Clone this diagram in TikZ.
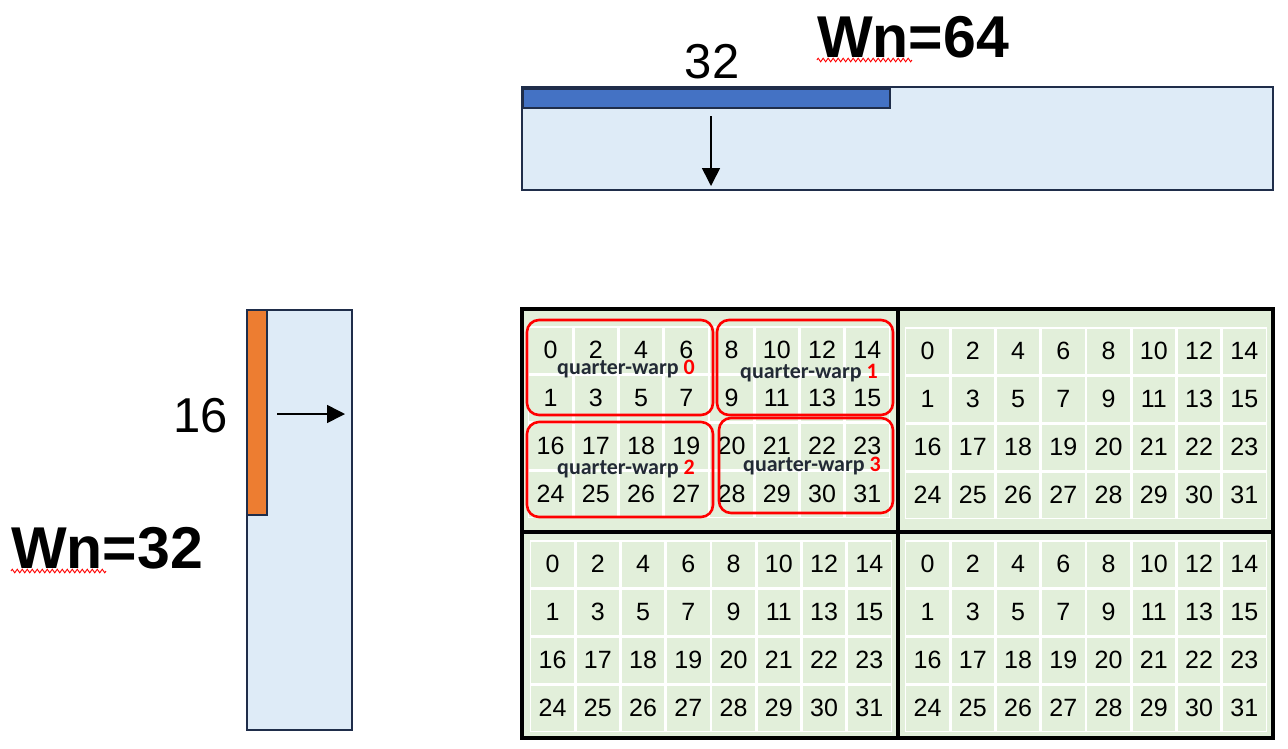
\documentclass[tikz,border=0pt]{standalone}
\usepackage{fontspec}
\setmainfont{Liberation Sans}
\newfontfamily\qwfont{Carlito}
\usepackage{tikz}
\usetikzlibrary{arrows.meta,positioning,calc,decorations.pathmorphing}
\definecolor{panelblue}{HTML}{DEEBF7}
\definecolor{edgenavy}{HTML}{1F2D4A}
\definecolor{barblue}{HTML}{4472C4}
\definecolor{barorange}{HTML}{ED7D31}
\definecolor{cellgreen}{HTML}{E2EFDA}
\definecolor{qwtext}{HTML}{222A35}
\tikzset{
  panel/.style={draw=edgenavy, fill=panelblue, line width=2.6pt},
  bar/.style={draw=edgenavy, line width=2.6pt},
  quad/.style={draw=black, fill=cellgreen, line width=3.2pt},
  cell/.style={fill=cellgreen, minimum width=42.5pt, minimum height=45pt,
    inner sep=0pt, font=\fontsize{25}{25}\selectfont},
  qwbox/.style={draw=red, line width=2.6pt, rounded corners=12pt},
  qwlabel/.style={text=qwtext, inner sep=0pt,
    font=\qwfont\bfseries\fontsize{22}{22}\selectfont},
  arrow/.style={-{Triangle[length=18pt,width=18pt]}, line width=1.6pt},
  squiggle/.style={draw=red, line width=0.9pt, decorate,
    decoration={zigzag, amplitude=1.8pt, segment length=5pt}},
  bigtxt/.style={font=\bfseries\fontsize{59}{59}\selectfont, inner sep=0pt},
  dimtxt/.style={font=\fontsize{49}{49}\selectfont, inner sep=0pt},
}

\begin{document}
\begin{tikzpicture}[x=1pt,y=-1pt]
  \useasboundingbox (0,0) rectangle (1288,748);
  % top panel, Wn=64
  \draw[panel] (522,87) rectangle (1273,190);
  \draw[bar, fill=barblue] (523,89) rectangle (890,108);
  \coordinate (topA) at (711,116);
  \coordinate (topB) at (711,186);
  \draw[arrow] (topA) -- (topB);
  \node[dimtxt, anchor=base] (dim32) at (712,78) {32};
  \node[bigtxt, anchor=base] (wn64) at (913,57) {Wn=64};
  \draw[squiggle] ([yshift=-3pt]wn64.base west) -- ++(95,0);

  % left panel, Wn=32
  \draw[panel] (247,310) rectangle (352,730);
  \draw[bar, fill=barorange] (247,310) rectangle (267,515);
  \coordinate (leftA) at (277,414);
  \coordinate (leftB) at (345,414);
  \draw[arrow] (leftA) -- (leftB);
  \node[dimtxt, anchor=base] (dim16) at (201,432) {16};
  \node[bigtxt, anchor=base west] (wn32) at (11,568) {Wn=32};
  \draw[squiggle] ([yshift=-3pt]wn32.base west) -- ++(95,0);

  % quadrants
  \draw[quad] (522,309) rectangle (898,532);
  \draw[quad] (898,309) rectangle (1273,532);
  \draw[quad] (522,532) rectangle (898,738);
  \draw[quad] (898,532) rectangle (1273,738);
  % cells
  \foreach \q/\qx/\qy in {a/528/326, b/905/327, c/530/540, d/905/540}{
    \fill[white] (\qx,\qy) rectangle ++(362,192);
    \foreach \r in {0,...,3}{
      \foreach \c in {0,...,7}{
        \ifnum\r<2\relax
          \pgfmathtruncatemacro\n{2*\c+\r}
        \else
          \pgfmathtruncatemacro\n{8*\r+\c}
        \fi
        \node[cell] (\q-\r-\c) at ({\qx+(\c+0.5)*45.25},{\qy+(\r+0.5)*48}) {\n};
      }
    }
  }

  % quarter-warps
  \draw[qwbox] (527,320) rectangle (713,415);
  \draw[qwbox] (717,320) rectangle (893,415);
  \draw[qwbox] (527,422) rectangle (713,517);
  \draw[qwbox] (719,418) rectangle (893,513);
  \node[qwlabel] (qw0) at (626,369) {quarter-warp \textcolor{red}{0}};
  \node[qwlabel] (qw1) at (809,373) {quarter-warp \textcolor{red}{1}};
  \node[qwlabel] (qw2) at (626,469) {quarter-warp \textcolor{red}{2}};
  \node[qwlabel] (qw3) at (812,466) {quarter-warp \textcolor{red}{3}};
\end{tikzpicture}
\end{document}
